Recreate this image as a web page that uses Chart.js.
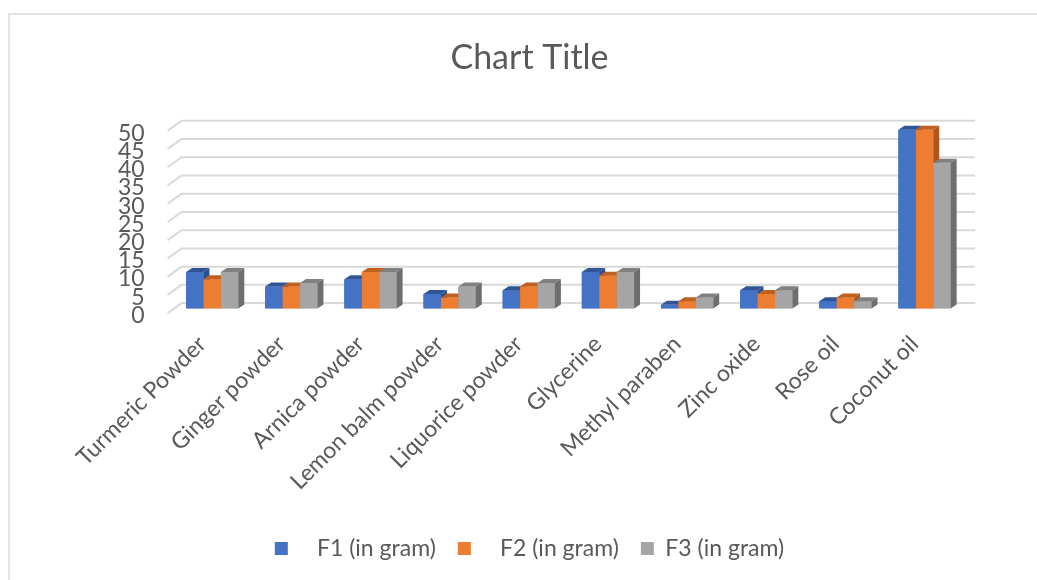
<!DOCTYPE html>
<html>
<head>
<meta charset="utf-8">
<script src="https://cdn.jsdelivr.net/npm/chart.js@4.4.1/dist/chart.umd.min.js"></script>
<style>
  body { margin: 0; background: #fff; }
</style>
</head>
<body>
<canvas id="bar-chart" width="1037" height="580"></canvas>
<script>
// data
const ingredients = ["Turmeric Powder", "Ginger powder", "Arnica powder", "Lemon balm powder", "Liquorice powder",
                     "Glycerine", "Methyl paraben", "Zinc oxide", "Rose oil", "Coconut oil"];
const f1Values = [10, 6, 8, 4, 5, 10, 1, 5, 2, 49];
const f2Values = [8, 6, 10, 3, 6, 9, 2, 4, 3, 49];
const f3Values = [10, 7, 10, 6, 7, 10, 3, 5, 2, 40];
const seriesNames = ["   F1 (in gram)", "   F2 (in gram)", "F3 (in gram)"];
const yMax = 50;
const yStep = 5;

const shades = [
    { front: '#4472C4', top: '#2F5597', side: '#2B4E8C' },
    { front: '#ED7D31', top: '#C0601F', side: '#AE561C' },
    { front: '#A5A5A5', top: '#808080', side: '#6E6E6E' }
];
const depth = { dx: 6, dy: 4 };

// frame + back wall grid + 3d faces of the columns
const fake3d = {
    id: 'fake3d',
    beforeDraw(chart) {
        const ctx = chart.ctx;
        ctx.save();
        ctx.fillStyle = '#fff';
        ctx.fillRect(0, 0, chart.width, chart.height);
        ctx.strokeStyle = '#d9d9d9';
        ctx.lineWidth = 1.5;
        ctx.beginPath();
        ctx.moveTo(9, chart.height);
        ctx.lineTo(9, 14);
        ctx.lineTo(chart.width, 14);
        ctx.stroke();
        ctx.restore();
    },
    beforeDatasetsDraw(chart) {
        const { ctx, chartArea } = chart;
        const y = chart.scales.y;
        ctx.save();
        ctx.strokeStyle = '#d9d9d9';
        ctx.lineWidth = 2;
        for (let v = 0; v <= yMax; v += yStep) {
            const py = y.getPixelForValue(v);
            ctx.beginPath();
            ctx.moveTo(chartArea.left - 5, py + 4.6);
            ctx.lineTo(chartArea.left + 9, py - 5.4);
            ctx.lineTo(chartArea.right + 11, py - 5.4);
            ctx.stroke();
        }
        ctx.restore();
    },
    afterDatasetsDraw(chart) {
        const ctx = chart.ctx;
        const metas = chart.data.datasets.map((d, i) => chart.getDatasetMeta(i));
        ctx.save();
        for (let j = 0; j < chart.data.labels.length; j++) {
            metas.forEach((meta, i) => {
                const bar = meta.data[j];
                const { x, y, base, width } = bar.getProps(['x', 'y', 'base', 'width'], true);
                const l = x - width / 2, r = x + width / 2;
                ctx.fillStyle = shades[i].front;
                ctx.fillRect(l, y, width, base - y);
                ctx.fillStyle = shades[i].top;
                ctx.beginPath();
                ctx.moveTo(l, y);
                ctx.lineTo(l + depth.dx, y - depth.dy);
                ctx.lineTo(r + depth.dx, y - depth.dy);
                ctx.lineTo(r, y);
                ctx.closePath();
                ctx.fill();
                ctx.fillStyle = shades[i].side;
                ctx.beginPath();
                ctx.moveTo(r, y);
                ctx.lineTo(r + depth.dx, y - depth.dy);
                ctx.lineTo(r + depth.dx, base - depth.dy);
                ctx.lineTo(r, base);
                ctx.closePath();
                ctx.fill();
            });
        }
        ctx.restore();
    }
};

const barChart = document.getElementById("bar-chart");

new Chart(barChart, {
    type: "bar",
    data: {
        labels: ingredients,
        datasets: [
            { label: seriesNames[0], data: f1Values, backgroundColor: shades[0].front },
            { label: seriesNames[1], data: f2Values, backgroundColor: shades[1].front },
            { label: seriesNames[2], data: f3Values, backgroundColor: shades[2].front }
        ]
    },
    options: {
        responsive: false,
        animation: false,
        categoryPercentage: 0.66,
        barPercentage: 1.0,
        layout: {
            padding: { top: 0, right: 0, bottom: 10, left: 22 }
        },
        scales: {
            y: {
                min: 0,
                max: yMax,
                grid: { display: false, drawTicks: false },
                border: { display: false },
                ticks: {
                    stepSize: yStep,
                    autoSkip: false,
                    color: '#595959',
                    font: { family: 'Lato', size: 23 },
                    padding: 28,
                    labelOffset: 7
                },
                afterFit(scale) { scale.width = 150.6; }
            },
            // empty right axis, only keeps room on the right
            spacer: {
                position: 'right',
                min: 0,
                max: 1,
                grid: { display: false, drawTicks: false },
                border: { display: false },
                ticks: { display: false },
                afterFit(scale) { scale.width = 72.9; }
            },
            x: {
                grid: { display: false, drawTicks: false },
                border: { display: false },
                ticks: {
                    color: '#595959',
                    font: { family: 'Lato', size: 23 },
                    maxRotation: 45,
                    minRotation: 45,
                    padding: 22,
                    labelOffset: -10
                },
                afterFit(scale) { scale.height = 206.5; }
            }
        },
        plugins: {
            legend: {
                position: 'bottom',
                labels: {
                    color: '#595959',
                    font: { family: 'Lato', size: 23 },
                    boxWidth: 13,
                    boxHeight: 13,
                    padding: 22
                }
            },
            title: {
                display: true,
                text: "Chart Title",
                color: '#595959',
                font: { family: 'Lato', size: 34, weight: 'normal' },
                padding: { top: 37.6, bottom: 47.8 }
            },
            tooltip: { enabled: false }
        }
    },
    plugins: [fake3d]
});
</script>
</body>
</html>
